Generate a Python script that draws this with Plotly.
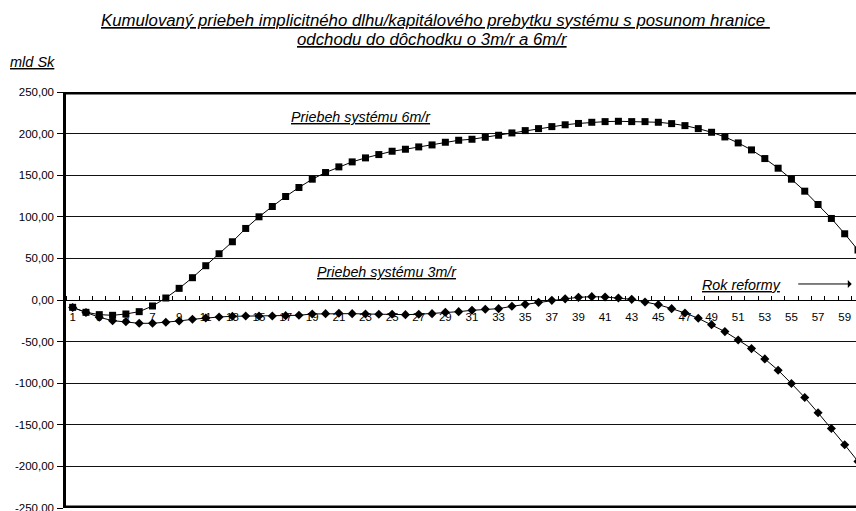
import plotly.graph_objects as go

# Years since the reform (category axis)
years = list(range(1, 61))

# Cumulative implicit debt / capital surplus, bn Sk
system_6m = [-8.8, -14.8, -17.6, -18.4, -16.8, -14.0, -7.2, 2.4, 14.0, 26.8,
             41.2, 55.6, 70.0, 86.0, 100.0, 112.4, 124.4, 135.2, 145.2, 153.2,
             160.0, 166.0, 170.8, 174.8, 178.8, 181.2, 184.0, 186.4, 189.6, 192.0,
             193.2, 195.6, 198.0, 200.8, 203.6, 206.0, 208.4, 210.6, 212.2, 213.6,
             214.4, 214.8, 214.4, 214.4, 213.6, 212.0, 209.6, 206.0, 201.6, 196.0,
             188.8, 180.4, 170.0, 158.4, 145.2, 130.8, 114.8, 98.0, 79.6, 60.0]

system_3m = [-9.0, -15.0, -20.8, -24.8, -26.0, -28.0, -28.0, -26.8, -25.2, -23.2,
             -21.6, -20.4, -19.6, -19.2, -19.2, -19.2, -18.8, -18.4, -16.8, -16.4,
             -16.0, -16.4, -16.8, -17.2, -17.2, -17.6, -17.2, -16.4, -14.8, -14.0,
             -12.4, -11.2, -10.4, -7.6, -5.2, -2.8, -0.4, 1.4, 3.2, 4.0,
             3.6, 2.4, 0.8, -2.4, -5.6, -10.4, -15.6, -22.0, -29.6, -38.0,
             -48.0, -58.4, -70.8, -84.4, -100.4, -117.2, -135.6, -154.4, -174.0, -194.0]

# Axis ticks
y_ticks = [250, 200, 150, 100, 50, 0, -50, -100, -150, -200, -250]
y_tick_text = ["250,00", "200,00", "150,00", "100,00", "50,00", "0,00",
               "-50,00", "-100,00", "-150,00", "-200,00", "-250,00"]
x_label_years = years[::2]
x_boundaries = [y - 0.5 for y in years] + [years[-1] + 0.5]
y_range = [y_ticks[-1], y_ticks[0]]

FONT = "Liberation Sans, Arial, sans-serif"
TICK_FONT = dict(size=11.5, color="black", family=FONT)
NOTE_FONT = dict(size=14.3, color="black", family=FONT)
TITLE_FONT = dict(size=16.8, color="black", family=FONT)

fig = go.Figure()
fig.add_trace(go.Scatter(
    x=years, y=system_3m, mode="lines+markers", name="Priebeh systému 3m/r",
    line=dict(color="black", width=1),
    marker=dict(symbol="diamond", size=7, color="black"),
))
fig.add_trace(go.Scatter(
    x=years, y=system_6m, mode="lines+markers", name="Priebeh systému 6m/r",
    line=dict(color="black", width=1),
    marker=dict(symbol="square", size=7, color="black"),
))

# Heavy top and bottom edges of the plot area (clipped to the plot, so half shows)
frame_shapes = [
    dict(type="line", xref="x", yref="y",
         x0=x_boundaries[0], x1=x_boundaries[-1], y0=edge, y1=edge,
         line=dict(color="black", width=5), layer="above")
    for edge in y_range
]

fig.update_layout(
    width=856, height=511,
    margin=dict(l=66, r=0, t=92, b=3),
    paper_bgcolor="white", plot_bgcolor="white",
    showlegend=False,
    font=dict(family=FONT, size=11, color="black"),
    xaxis=dict(
        range=[0.5, 59.85], anchor="free", position=0.5,
        showline=True, linecolor="black", linewidth=1,
        showgrid=False, zeroline=False,
        tickmode="array", tickvals=x_label_years,
        ticktext=[str(v) for v in x_label_years],
        ticks="", ticklabelstandoff=6,
        minor=dict(tickmode="array", tickvals=x_boundaries, ticks="inside",
                   ticklen=4, tickcolor="black", tickwidth=1, showgrid=False),
        tickfont=TICK_FONT,
        layer="below traces", automargin=False, fixedrange=True,
    ),
    yaxis=dict(
        range=y_range, domain=[0, 1],
        tickmode="array", tickvals=y_ticks, ticktext=y_tick_text,
        showgrid=True, gridcolor="#111", gridwidth=1,
        zeroline=False,
        showline=True, linecolor="black", linewidth=2.5,
        ticks="outside", ticklen=6, tickcolor="black", tickwidth=1,
        ticklabelstandoff=1, ticklabeloverflow="allow",
        tickfont=TICK_FONT,
        automargin=False, fixedrange=True,
    ),
    shapes=frame_shapes,
    annotations=[
        dict(text="<i><u>Kumulovaný priebeh implicitného dlhu/kapitálového prebytku systému s posunom hranice </u></i>",
             xref="paper", yref="paper", x=0.4677, y=1.171, xanchor="center", yanchor="middle",
             showarrow=False, font=TITLE_FONT),
        dict(text="<i><u>odchodu do dôchodku o 3m/r a 6m/r</u></i>",
             xref="paper", yref="paper", x=0.4639, y=1.127, xanchor="center", yanchor="middle",
             showarrow=False, font=TITLE_FONT),
        dict(text="<i><u>mld Sk</u></i>", xref="paper", yref="paper",
             x=-0.073, y=1.072, xanchor="left", yanchor="middle",
             showarrow=False, font=dict(size=14.5, color="black", family=FONT)),
        dict(text="<i><u>Priebeh systému 6m/r</u></i>", xref="paper", yref="paper",
             x=0.3728, y=0.940, xanchor="center", yanchor="middle",
             showarrow=False, font=NOTE_FONT),
        dict(text="<i><u>Priebeh systému 3m/r</u></i>", xref="paper", yref="paper",
             x=0.406, y=0.567, xanchor="center", yanchor="middle",
             showarrow=False, font=NOTE_FONT),
        dict(text="<i><u>Rok reformy</u></i>", xref="paper", yref="paper",
             x=0.8553, y=0.536, xanchor="center", yanchor="middle",
             showarrow=False, font=NOTE_FONT),
        dict(text="", xref="paper", yref="paper", x=0.9946, y=0.5385,
             axref="pixel", ayref="pixel", ax=-55, ay=0,
             showarrow=True, arrowhead=1, arrowsize=1.3, arrowwidth=1, arrowcolor="black"),
    ],
)

fig.write_html("out.html")
